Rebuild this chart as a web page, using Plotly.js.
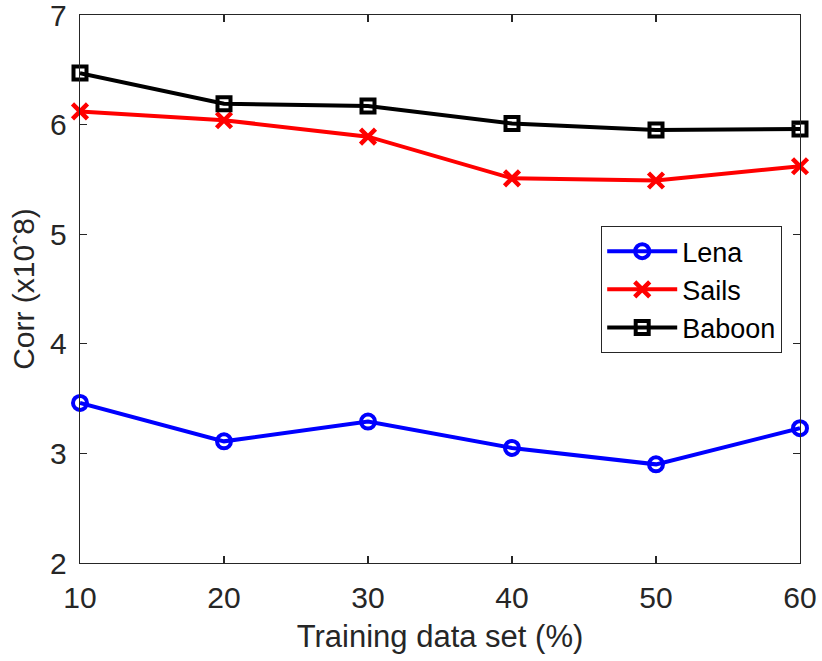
<!DOCTYPE html>
<html>
<head>
<meta charset="utf-8">
<script src="https://cdn.plot.ly/plotly-3.0.1.min.js"></script>
<style>html,body{margin:0;padding:0;background:#fff;}#chart{width:822px;height:661px;}</style>
</head>
<body>
<div id="chart"></div>
<script>
var trainingPct = [10, 20, 30, 40, 50, 60];
var lena   = [3.46, 3.11, 3.29, 3.05, 2.90, 3.23];
var sails  = [6.12, 6.04, 5.89, 5.51, 5.49, 5.62];
var baboon = [6.47, 6.19, 6.17, 6.01, 5.95, 5.96];
var seriesNames = ['Lena', 'Sails', 'Baboon'];
var xTicks = [10, 20, 30, 40, 50, 60];
var yTicks = [2, 3, 4, 5, 6, 7];

var font = 'Liberation Sans, Arial, Helvetica, sans-serif';
var axisColor = '#262626';

var traces = [
  {x: trainingPct, y: lena, name: seriesNames[0], mode: 'lines+markers', cliponaxis: false,
   line: {color: '#0000ff', width: 4},
   marker: {symbol: 'circle-open', size: 14, color: '#0000ff', line: {width: 4, color: '#0000ff'}}},
  {x: trainingPct, y: sails, name: seriesNames[1], mode: 'lines+markers', cliponaxis: false,
   line: {color: '#ff0000', width: 4},
   marker: {symbol: 'x-thin-open', size: 15, color: '#ff0000', line: {width: 4.5, color: '#ff0000'}}},
  {x: trainingPct, y: baboon, name: seriesNames[2], mode: 'lines+markers', cliponaxis: false,
   line: {color: '#000000', width: 4},
   marker: {symbol: 'square-open', size: 13, color: '#000000', line: {width: 4, color: '#000000'}}}
];

var layout = {
  width: 822, height: 661,
  margin: {l: 80, r: 22, t: 15, b: 98},
  paper_bgcolor: '#fff', plot_bgcolor: '#fff',
  font: {family: font, color: axisColor},
  showlegend: true,
  legend: {
    x: 0.975, y: 0.615, xanchor: 'right', yanchor: 'top',
    bgcolor: '#fff', bordercolor: '#262626', borderwidth: 1.2,
    font: {family: font, size: 27, color: '#000'},
    itemwidth: 70, tracegroupgap: 0
  },
  xaxis: {
    range: [10, 60], tickvals: xTicks, ticktext: xTicks.map(String),
    showgrid: false, zeroline: false,
    showline: true, linecolor: axisColor, linewidth: 1.3, mirror: 'ticks',
    ticks: 'inside', ticklen: 7, tickcolor: axisColor, tickwidth: 1.3,
    ticklabelstandoff: 8, ticklabeloverflow: 'allow',
    tickfont: {family: font, size: 30, color: axisColor},
    title: {text: 'Training data set (%)', font: {family: font, size: 31, color: axisColor}, standoff: 12}
  },
  yaxis: {
    range: [2, 7], tickvals: yTicks, ticktext: yTicks.map(String),
    showgrid: false, zeroline: false,
    showline: true, linecolor: axisColor, linewidth: 1.3, mirror: 'ticks',
    ticks: 'inside', ticklen: 7, tickcolor: axisColor, tickwidth: 1.3,
    ticklabelstandoff: 6, ticklabeloverflow: 'allow',
    tickfont: {family: font, size: 30, color: axisColor},
    title: {text: 'Corr (x10ˆ8)', font: {family: font, size: 30, color: axisColor}, standoff: 6}
  }
};

Plotly.newPlot('chart', traces, layout, {displayModeBar: false, staticPlot: true});
</script>
</body>
</html>
